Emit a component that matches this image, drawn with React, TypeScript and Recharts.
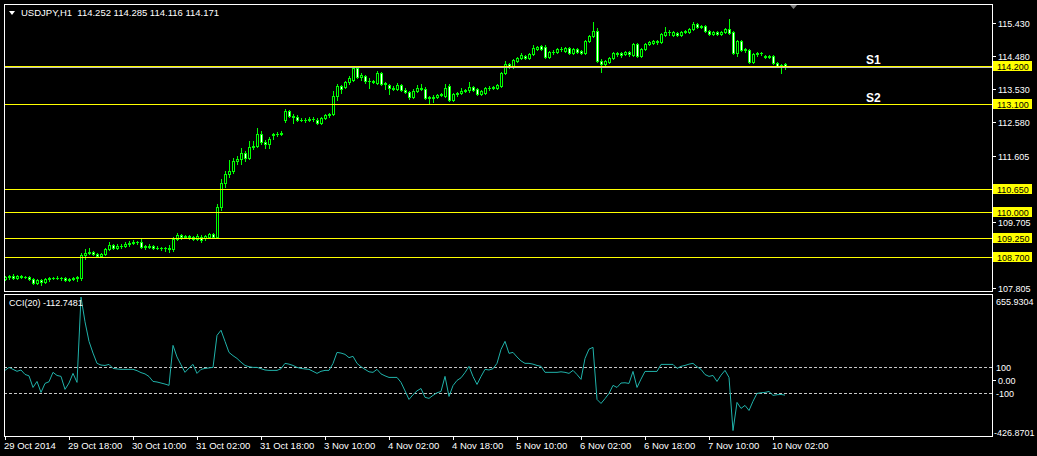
import React from 'react';
import { ComposedChart, Bar, Line, XAxis, YAxis, ReferenceLine } from 'recharts';

// USDJPY H1 bars, 29 Oct 2014 02:00 .. 10 Nov 2014 05:00
const opens = [
  108.064, 108.122, 108.151, 108.093, 108.151, 108.122, 108.122, 108.064, 107.948, 108.035,
  107.977, 108.064, 108.093, 108.093, 108.093, 108.093, 108.035, 108.064, 108.093, 108.093,
  108.758, 108.815, 108.844, 108.786, 108.729, 108.786, 108.931, 109.047, 108.960, 109.018,
  109.018, 109.076, 109.105, 109.133, 109.133, 108.989, 109.018, 109.018, 108.960, 108.960,
  108.960, 108.960, 108.931, 109.220, 109.335, 109.278, 109.306, 109.278, 109.220, 109.278,
  109.249, 109.278, 109.364, 109.278, 110.144, 110.837, 111.097, 111.184, 111.473, 111.530,
  111.704, 111.559, 111.877, 111.906, 112.253, 112.021, 111.963, 112.224, 112.253, 112.253,
  112.657, 112.917, 112.772, 112.744, 112.657, 112.657, 112.657, 112.686, 112.657, 112.570,
  112.715, 112.801, 112.830, 113.350, 113.639, 113.610, 113.754, 113.812, 114.130, 113.870,
  113.899, 113.783, 113.783, 113.725, 113.985, 113.696, 113.668, 113.552, 113.552, 113.668,
  113.523, 113.465, 113.321, 113.494, 113.581, 113.552, 113.292, 113.321, 113.321, 113.379,
  113.350, 113.639, 113.234, 113.408, 113.437, 113.494, 113.523, 113.610, 113.552, 113.408,
  113.437, 113.581, 113.581, 113.581, 113.639, 113.985, 114.245, 114.159, 114.332, 114.419,
  114.476, 114.419, 114.534, 114.679, 114.765, 114.737, 114.448, 114.592, 114.592, 114.679,
  114.621, 114.708, 114.563, 114.679, 114.621, 114.563, 114.910, 115.054, 115.199, 114.332,
  114.245, 114.303, 114.419, 114.534, 114.563, 114.534, 114.592, 114.505, 114.823, 114.476,
  114.679, 114.823, 114.852, 114.881, 114.881, 115.083, 115.170, 115.083, 115.141, 115.083,
  115.170, 115.170, 115.256, 115.401, 115.314, 115.343, 115.199, 115.112, 115.170, 115.112,
  115.170, 115.256, 115.170, 114.563, 114.910, 114.650, 114.650, 114.303, 114.534, 114.563,
  114.476, 114.448, 114.476, 114.274, 114.187, 114.252,
];

const highs = [
  108.151, 108.180, 108.209, 108.180, 108.180, 108.151, 108.151, 108.093, 108.064, 108.064,
  108.093, 108.122, 108.122, 108.151, 108.122, 108.122, 108.093, 108.122, 108.151, 108.815,
  108.931, 108.960, 108.873, 108.815, 108.815, 108.960, 109.133, 109.076, 109.076, 109.076,
  109.133, 109.162, 109.191, 109.162, 109.220, 109.047, 109.076, 109.047, 109.018, 108.989,
  108.989, 109.047, 109.278, 109.393, 109.364, 109.335, 109.335, 109.306, 109.364, 109.335,
  109.335, 109.393, 109.393, 110.231, 110.953, 111.184, 111.502, 111.559, 111.617, 111.848,
  111.761, 112.050, 112.050, 112.426, 112.339, 112.079, 112.166, 112.281, 112.310, 112.339,
  112.975, 112.946, 112.830, 112.801, 112.715, 112.715, 112.744, 112.744, 112.715, 112.744,
  112.830, 112.859, 113.494, 113.696, 113.668, 113.783, 113.899, 114.159, 114.187, 113.985,
  113.928, 113.841, 113.812, 114.043, 114.014, 113.754, 113.696, 113.639, 113.725, 113.696,
  113.581, 113.494, 113.552, 113.668, 113.696, 113.610, 113.350, 113.379, 113.408, 113.437,
  113.696, 113.696, 113.437, 113.465, 113.581, 113.552, 113.754, 113.639, 113.581, 113.523,
  113.610, 113.639, 113.639, 113.696, 114.014, 114.332, 114.274, 114.390, 114.448, 114.563,
  114.505, 114.563, 114.794, 114.765, 114.794, 114.794, 114.621, 114.650, 114.708, 114.737,
  114.737, 114.737, 114.708, 114.708, 114.650, 114.939, 115.083, 115.459, 115.285, 114.390,
  114.361, 114.448, 114.592, 114.592, 114.592, 114.621, 114.621, 114.852, 114.852, 114.708,
  114.852, 114.910, 114.939, 114.939, 115.141, 115.314, 115.228, 115.199, 115.170, 115.199,
  115.228, 115.285, 115.459, 115.430, 115.372, 115.372, 115.228, 115.199, 115.199, 115.199,
  115.285, 115.545, 115.199, 114.939, 114.939, 114.708, 114.679, 114.563, 114.592, 114.592,
  114.505, 114.505, 114.505, 114.303, 114.245, 114.285,
];

const lows = [
  108.035, 108.064, 108.064, 108.064, 108.093, 108.093, 108.035, 107.919, 107.919, 107.891,
  107.948, 108.006, 108.064, 108.064, 108.035, 108.006, 108.006, 108.035, 108.006, 108.035,
  108.642, 108.786, 108.758, 108.700, 108.700, 108.758, 108.902, 108.931, 108.931, 108.960,
  108.989, 109.018, 109.076, 109.076, 108.960, 108.931, 108.960, 108.931, 108.931, 108.902,
  108.873, 108.844, 108.873, 109.191, 109.220, 109.249, 109.220, 109.191, 109.191, 109.133,
  109.191, 109.249, 109.249, 109.249, 110.058, 110.722, 111.011, 111.126, 111.386, 111.386,
  111.473, 111.530, 111.819, 111.877, 111.963, 111.848, 111.848, 112.108, 112.195, 112.224,
  112.599, 112.744, 112.570, 112.628, 112.628, 112.599, 112.628, 112.628, 112.541, 112.541,
  112.686, 112.744, 112.801, 113.234, 113.437, 113.581, 113.696, 113.783, 113.841, 113.812,
  113.725, 113.581, 113.725, 113.696, 113.668, 113.552, 113.408, 113.523, 113.523, 113.494,
  113.437, 113.263, 113.292, 113.465, 113.523, 113.263, 113.148, 113.177, 113.292, 113.350,
  113.321, 113.206, 113.206, 113.350, 113.408, 113.465, 113.465, 113.494, 113.379, 113.379,
  113.408, 113.523, 113.552, 113.552, 113.610, 113.956, 114.130, 114.130, 114.303, 114.390,
  114.390, 114.390, 114.505, 114.650, 114.650, 114.419, 114.419, 114.534, 114.563, 114.621,
  114.592, 114.534, 114.534, 114.563, 114.534, 114.534, 114.881, 115.025, 114.303, 114.014,
  114.187, 114.274, 114.390, 114.476, 114.448, 114.505, 114.476, 114.476, 114.448, 114.448,
  114.650, 114.794, 114.823, 114.823, 114.852, 115.054, 115.083, 115.054, 115.054, 115.054,
  115.141, 115.141, 115.228, 115.285, 115.285, 115.170, 115.083, 115.083, 115.083, 115.083,
  115.141, 115.112, 114.534, 114.476, 114.621, 114.592, 114.274, 114.274, 114.476, 114.505,
  114.419, 114.419, 114.245, 114.159, 113.985, 114.116,
];

const closes = [
  108.122, 108.151, 108.093, 108.151, 108.122, 108.122, 108.064, 107.948, 108.035, 107.977,
  108.064, 108.093, 108.093, 108.093, 108.093, 108.035, 108.064, 108.093, 108.122, 108.758,
  108.815, 108.844, 108.786, 108.729, 108.786, 108.931, 109.047, 108.960, 109.018, 109.018,
  109.076, 109.105, 109.133, 109.133, 108.989, 109.018, 108.989, 108.960, 108.960, 108.960,
  108.960, 108.931, 109.220, 109.335, 109.278, 109.306, 109.278, 109.220, 109.306, 109.191,
  109.306, 109.364, 109.278, 110.144, 110.837, 111.097, 111.184, 111.473, 111.530, 111.704,
  111.559, 111.877, 111.906, 112.253, 112.021, 111.963, 112.108, 112.253, 112.253, 112.281,
  112.917, 112.772, 112.744, 112.657, 112.657, 112.657, 112.686, 112.686, 112.570, 112.715,
  112.801, 112.830, 113.350, 113.639, 113.552, 113.754, 113.841, 114.130, 113.870, 113.928,
  113.783, 113.783, 113.754, 113.985, 113.696, 113.725, 113.581, 113.581, 113.668, 113.523,
  113.465, 113.321, 113.494, 113.581, 113.552, 113.292, 113.321, 113.292, 113.379, 113.408,
  113.581, 113.234, 113.408, 113.437, 113.494, 113.523, 113.610, 113.523, 113.408, 113.494,
  113.581, 113.581, 113.610, 113.668, 113.985, 114.245, 114.159, 114.361, 114.419, 114.505,
  114.419, 114.534, 114.708, 114.737, 114.679, 114.448, 114.592, 114.592, 114.679, 114.679,
  114.708, 114.563, 114.679, 114.592, 114.563, 114.910, 115.054, 115.199, 114.332, 114.245,
  114.332, 114.419, 114.563, 114.563, 114.505, 114.592, 114.534, 114.823, 114.476, 114.679,
  114.823, 114.881, 114.910, 114.910, 115.112, 115.170, 115.170, 115.170, 115.083, 115.170,
  115.199, 115.256, 115.401, 115.314, 115.343, 115.199, 115.112, 115.170, 115.112, 115.170,
  115.256, 115.141, 114.563, 114.910, 114.650, 114.679, 114.303, 114.534, 114.563, 114.563,
  114.448, 114.476, 114.274, 114.187, 114.216, 114.171,
];

// CCI(20) per bar
const cciValues = [
  77, 100, 85, 70, 80, 46, 35, -54, -8, -92,
  -23, -10, 62, 38, 31, -69, -20, 54, -15, 640,
  450, 300, 210, 131, 118, 115, 123, 92, 88, 85,
  85, 85, 85, 75, 60, 50, 30, -8, -12, -20,
  -28, -38, 269, 180, 120, 62, 95, 123, 54, 85,
  92, 96, 100, 346, 385, 300, 215, 190, 169, 140,
  115, 105, 100, 100, 90, 80, 77, 77, 77, 90,
  131, 125, 115, 100, 92, 88, 85, 70, 54, 70,
  77, 77, 130, 215, 210, 200, 175, 185, 131, 105,
  85, 66, 62, 85, 50, 35, 23, 23, 23, -15,
  -80, -146, -110, -80, -62, -130, -138, -115, -95, -85,
  31, -123, -40, 0, 20, 60, 108, 30, -31, 30,
  85, 80, 90, 131, 238, 300, 208, 215, 180, 150,
  131, 131, 125, 115, 108, 62, 62, 62, 62, 66,
  62, 54, 77, 45, 8, 169, 240, 254, -146, -177,
  -140, -100, -38, -54, -20, -18, -23, 69, -54, 10,
  69, 69, 69, 69, 123, 123, 123, 123, 92, 108,
  115, 125, 131, 105, 85, 45, 31, 38, -8, 40,
  77, 23, -385, -169, -215, -192, -231, -160, -100, -95,
  -92, -85, -115, -110, -108, -112.7481,
];

const timeTickBars = [0, 16, 32, 48, 64, 80, 96, 112, 128, 144, 160, 176, 192];
const timeTickLabels = [
  '29 Oct 2014', '29 Oct 18:00', '30 Oct 10:00', '31 Oct 02:00', '31 Oct 18:00',
  '3 Nov 10:00', '4 Nov 02:00', '4 Nov 18:00', '5 Nov 10:00', '6 Nov 02:00',
  '6 Nov 18:00', '7 Nov 10:00', '10 Nov 02:00',
];

const priceTicks = [115.43, 114.48, 113.53, 112.58, 111.605, 109.705, 107.805];
const levelPrices = [114.2, 113.1, 110.65, 110.0, 109.25, 108.7];
const levelTags = ['S1', 'S2', '', '', '', ''];
const bidPrice = 114.171;

const cciTicks = [655.9304, 100, 0, -100, -426.8701];
const cciTickLabels = ['655.9304', '100', '0.00', '-100', '-426.8701'];
const cciLevels = [100, -100];

const FONT = '"Liberation Sans", Arial, sans-serif';
const GREEN = '#00ff00';
const YELLOW = '#ffff00';
const CCI_COLOR = '#20b2aa';

const bars = opens.map((o, i) => ({
  i,
  o,
  h: highs[i],
  l: lows[i],
  c: closes[i],
  cci: cciValues[i],
}));

const Candle = (props: any) => {
  const { x, y, width, height } = props;
  const d = props.payload || props;
  if (x == null || y == null) return null;
  const top = Math.min(y, y + height);
  const bot = Math.max(y, y + height);
  const span = d.h - d.l || 1;
  const py = (p: number) => Math.round(top + ((d.h - p) / span) * (bot - top));
  const cx = Math.round(x + width / 2);
  const yo = py(d.o);
  const yc = py(d.c);
  const bTop = Math.min(yo, yc);
  const bBot = Math.max(yo, yc);
  const bear = d.c < d.o;
  return (
    <g shapeRendering="crispEdges">
      <line x1={cx + 0.5} x2={cx + 0.5} y1={Math.round(top)} y2={Math.round(bot) + 1} stroke={GREEN} />
      {bBot - bTop < 1 ? (
        <line x1={cx - 1} x2={cx + 2} y1={bTop + 0.5} y2={bTop + 0.5} stroke={GREEN} />
      ) : (
        <rect
          x={cx - 0.5}
          y={bTop + 0.5}
          width={2}
          height={bBot - bTop}
          fill={bear ? '#ffffff' : '#000000'}
          stroke={GREEN}
        />
      )}
    </g>
  );
};

// horizontal line snapped to a pixel row
const crispLine = (color: string, dash?: string) => (p: any) => {
  const yy = Math.round(p.y1) + 0.5;
  return (
    <line
      x1={p.x1}
      x2={p.x2}
      y1={yy}
      y2={yy}
      stroke={color}
      strokeWidth={1}
      strokeDasharray={dash}
      shapeRendering="crispEdges"
    />
  );
};

const renderPriceTick = (p: any) => {
  const v = p.payload.value;
  const yy = Math.round(p.y);
  const lvl = levelPrices.indexOf(v);
  if (lvl >= 0) {
    return (
      <g>
        <rect x={p.x + 1} y={yy - 5} width={39} height={10} fill={YELLOW} />
        <text x={p.x + 5} y={yy + 3.5} fill="#000" fontFamily={FONT} fontSize={9}>
          {v.toFixed(3)}
        </text>
      </g>
    );
  }
  return (
    <g>
      <line x1={p.x + 1} x2={p.x + 4} y1={yy + 0.5} y2={yy + 0.5} stroke="#fff" shapeRendering="crispEdges" />
      <text x={p.x + 6} y={yy + 3.5} fill="#fff" fontFamily={FONT} fontSize={9}>
        {v.toFixed(3)}
      </text>
    </g>
  );
};

const renderCciTick = (p: any) => {
  const k = cciTicks.indexOf(p.payload.value);
  const yy = Math.round(p.y);
  const last = k === cciTicks.length - 1;
  const shift = k === 0 ? 6 : last ? -4 : 0;
  const isZero = cciTickLabels[k] === '0.00';
  return (
    <g>
      {isZero && (
        <line x1={p.x + 1} x2={p.x + 4} y1={yy + 0.5} y2={yy + 0.5} stroke="#fff" shapeRendering="crispEdges" />
      )}
      <text x={p.x + (isZero ? 6 : last ? 2 : 4)} y={yy + shift + 3.5} fill="#fff" fontFamily={FONT} fontSize={9}>
        {cciTickLabels[k]}
      </text>
    </g>
  );
};

const renderTimeTick = (p: any) => {
  const k = timeTickBars.indexOf(p.payload.value);
  const tx = Math.round(p.x);
  return (
    <g>
      <line x1={tx + 0.5} x2={tx + 0.5} y1={p.y} y2={p.y + 4} stroke="#fff" shapeRendering="crispEdges" />
      <text x={tx - 1} y={p.y + 13} fill="#fff" fontFamily={FONT} fontSize={9.5}>
        {timeTickLabels[k]}
      </text>
    </g>
  );
};

const tagLabel = (tag: string) => (p: any) => {
  const vb = p.viewBox || {};
  return (
    <text
      x={vb.x + vb.width - 126}
      y={vb.y - 2}
      fill="#fff"
      fontFamily={FONT}
      fontWeight="bold"
      fontSize={12}
    >
      {tag}
    </text>
  );
};

const X_DOMAIN: [number, number] = [-0.25, 246.75];

export default function App() {
  return (
    <div
      style={{
        position: 'fixed',
        left: 0,
        top: 0,
        width: 1037,
        height: 456,
        background: '#000',
        overflow: 'hidden',
      }}
    >
      <div style={{ position: 'absolute', left: 0, top: 0 }}>
        <ComposedChart width={1037} height={292} data={bars} margin={{ top: 4, right: 0, bottom: 1, left: 4 }}>
          <XAxis dataKey="i" type="number" domain={X_DOMAIN} allowDataOverflow hide />
          <YAxis
            orientation="right"
            width={45}
            domain={[107.722, 115.986]}
            allowDataOverflow
            ticks={[...priceTicks, ...levelPrices]}
            interval={0}
            tick={renderPriceTick}
            tickLine={false}
            axisLine={false}
            tickSize={0}
            tickMargin={0}
          />
          <ReferenceLine y={bidPrice} stroke="#c0c0c0" shape={crispLine('#c0c0c0')} />
          {levelPrices.map((lv, k) => (
            <ReferenceLine
              key={lv}
              y={lv}
              stroke={YELLOW}
              shape={crispLine(YELLOW)}
              label={levelTags[k] ? tagLabel(levelTags[k]) : undefined}
            />
          ))}
          <Bar
            dataKey={(d: any) => [d.l, d.h]}
            barSize={3}
            shape={(p: any) => <Candle {...p} />}
            isAnimationActive={false}
          />
        </ComposedChart>
      </div>

      <div style={{ position: 'absolute', left: 0, top: 0 }}>
        <ComposedChart width={1037} height={456} data={bars} margin={{ top: 295, right: 0, bottom: 0, left: 4 }}>
          <XAxis
            dataKey="i"
            type="number"
            domain={X_DOMAIN}
            allowDataOverflow
            ticks={timeTickBars}
            interval={0}
            height={20}
            tick={renderTimeTick}
            tickLine={false}
            axisLine={false}
            tickSize={0}
            tickMargin={0}
          />
          <YAxis
            orientation="right"
            width={45}
            domain={[-426.8701, 655.9304]}
            allowDataOverflow
            ticks={cciTicks}
            interval={0}
            tick={renderCciTick}
            tickLine={false}
            axisLine={false}
            tickSize={0}
            tickMargin={0}
          />
          {cciLevels.map((lv) => (
            <ReferenceLine key={lv} y={lv} stroke="#c8c8c8" shape={crispLine('#c8c8c8', '3 2')} />
          ))}
          <Line
            dataKey="cci"
            type="linear"
            stroke={CCI_COLOR}
            strokeWidth={1}
            dot={false}
            isAnimationActive={false}
          />
        </ComposedChart>
      </div>

      <svg
        width={1037}
        height={456}
        style={{ position: 'absolute', left: 0, top: 0, pointerEvents: 'none' }}
      >
        <g shapeRendering="crispEdges" fill="none" stroke="#fff">
          <rect x={4.5} y={4.5} width={988} height={287} />
          <rect x={4.5} y={294.5} width={988} height={142} />
        </g>
        <polygon points="9,11 15,11 12,15" fill="#fff" />
        <polygon points="790,5 797,5 793.5,9" fill="#808080" />
        <text x={21} y={15.5} fill="#fff" fontFamily={FONT} fontSize={9.5} style={{ whiteSpace: 'pre' }}>
          {'USDJPY,H1  114.252 114.285 114.116 114.171'}
        </text>
        <text x={9} y={306} fill="#fff" fontFamily={FONT} fontSize={9}>
          CCI(20) -112.7481
        </text>
      </svg>
    </div>
  );
}
